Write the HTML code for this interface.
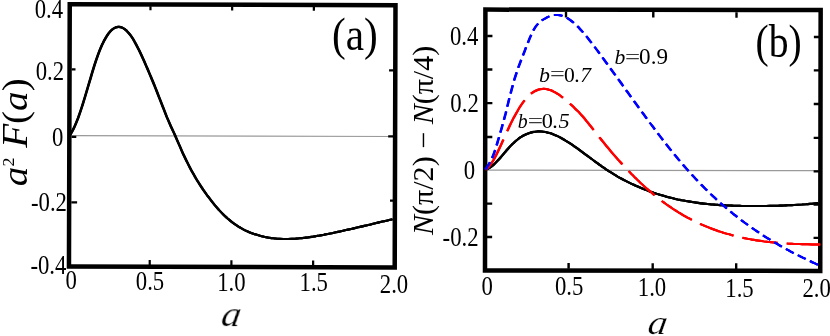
<!DOCTYPE html>
<html><head><meta charset="utf-8"><title>figure</title>
<style>
html,body{margin:0;padding:0;background:#fff;}
svg{display:block;font-family:"Liberation Serif",serif;}
</style></head>
<body>
<svg width="830" height="336" viewBox="0 0 830 336">
<rect width="830" height="336" fill="#fff"/>
<!-- panel a -->
<g transform="rotate(0.17 232 136)">
<line x1="72" y1="136" x2="393" y2="136" stroke="#9a9a9a" stroke-width="1.2"/>
<g stroke="#000" stroke-width="2.2">
<line x1="71.5" y1="69.8" x2="75.3" y2="69.8"/>
<line x1="71.5" y1="137.3" x2="76.3" y2="137.3"/>
<line x1="71.5" y1="202.8" x2="77.3" y2="202.8"/>
<line x1="388.9" y1="69.9" x2="393.5" y2="69.9"/>
<line x1="388.2" y1="135.9" x2="393.5" y2="135.9"/>
<line x1="390.2" y1="200.2" x2="393.5" y2="200.2"/>
<line x1="150.1" y1="260.3" x2="150.1" y2="265.5"/>
<line x1="150.1" y1="6.5" x2="150.1" y2="10.5"/>
<line x1="231.8" y1="260.3" x2="231.8" y2="265.5"/>
<line x1="231.8" y1="6.5" x2="231.8" y2="10.5"/>
<line x1="313.5" y1="260.3" x2="313.5" y2="265.5"/>
<line x1="313.5" y1="6.5" x2="313.5" y2="10.5"/>
</g>
<path transform="translate(-0.27,0)" d="M70.0,135.7C70.7,134.4 72.7,131.1 74.0,128.2C75.4,125.3 76.7,121.9 78.1,118.3C79.4,114.7 80.8,110.7 82.1,106.5C83.4,102.3 84.8,97.8 86.1,93.2C87.5,88.7 88.8,83.8 90.2,79.3C91.5,74.7 92.9,70.0 94.2,65.8C95.5,61.6 96.9,57.6 98.2,54.0C99.6,50.4 100.9,47.1 102.3,44.2C103.6,41.3 105.0,38.8 106.3,36.7C107.6,34.5 109.0,32.7 110.3,31.3C111.7,29.9 113.0,28.9 114.4,28.2C115.7,27.5 117.1,27.2 118.4,27.2C119.7,27.2 121.1,27.5 122.4,28.2C123.8,28.9 125.1,29.9 126.5,31.2C127.8,32.5 129.2,34.1 130.5,36.0C131.9,37.8 133.2,40.0 134.5,42.4C135.9,44.7 137.2,47.3 138.6,50.0C139.9,52.7 141.3,55.6 142.6,58.5C144.0,61.4 145.3,64.5 146.6,67.5C148.0,70.6 149.3,73.8 150.7,77.0C152.0,80.2 153.4,83.4 154.7,86.7C156.1,90.0 157.4,93.4 158.7,96.8C160.1,100.3 161.4,103.8 162.8,107.2C164.1,110.6 165.5,114.1 166.8,117.3C168.2,120.4 169.5,123.4 170.8,126.4C172.2,129.3 173.5,132.2 174.9,135.2C176.2,138.2 177.6,141.3 178.9,144.3C180.3,147.3 181.6,150.5 182.9,153.4C184.3,156.3 185.6,159.1 187.0,161.8C188.3,164.5 189.7,167.1 191.0,169.6C192.4,172.0 193.7,174.4 195.0,176.7C196.4,179.0 197.7,181.2 199.1,183.3C200.4,185.4 201.8,187.4 203.1,189.4C204.5,191.3 205.8,193.2 207.1,195.1C208.5,196.9 209.8,198.7 211.2,200.4C212.5,202.1 213.9,203.8 215.2,205.4C216.6,207.0 217.9,208.5 219.2,210.0C220.6,211.5 221.9,212.9 223.3,214.2C224.6,215.6 226.0,216.8 227.3,218.0C228.7,219.2 230.0,220.4 231.3,221.4C232.7,222.5 234.0,223.5 235.4,224.4C236.7,225.3 238.1,226.2 239.4,227.0C240.8,227.8 242.1,228.6 243.5,229.3C244.8,230.0 246.1,230.6 247.5,231.2C248.8,231.8 250.2,232.4 251.5,232.9C252.9,233.4 254.2,233.9 255.6,234.3C256.9,234.7 258.2,235.1 259.6,235.5C260.9,235.9 262.3,236.2 263.6,236.5C265.0,236.8 266.3,237.1 267.7,237.3C269.0,237.6 270.3,237.8 271.7,238.0C273.0,238.1 274.4,238.3 275.7,238.4C277.1,238.5 278.4,238.6 279.8,238.7C281.1,238.8 282.4,238.8 283.8,238.8C285.1,238.9 286.5,238.9 287.8,238.8C289.2,238.8 290.5,238.8 291.9,238.7C293.2,238.7 294.5,238.6 295.9,238.5C297.2,238.4 298.6,238.3 299.9,238.1C301.3,238.0 302.6,237.8 304.0,237.7C305.3,237.5 306.6,237.4 308.0,237.2C309.3,237.0 310.7,236.8 312.0,236.6C313.4,236.4 314.7,236.1 316.1,235.9C317.4,235.7 318.7,235.4 320.1,235.2C321.4,235.0 322.8,234.7 324.1,234.5C325.5,234.2 326.8,233.9 328.2,233.7C329.5,233.4 330.8,233.1 332.2,232.9C333.5,232.6 334.9,232.3 336.2,232.0C337.6,231.7 338.9,231.4 340.3,231.1C341.6,230.8 343.0,230.5 344.3,230.2C345.6,229.9 347.0,229.6 348.3,229.3C349.7,229.0 351.0,228.7 352.4,228.4C353.7,228.1 355.1,227.8 356.4,227.4C357.7,227.1 359.1,226.8 360.4,226.5C361.8,226.2 363.1,225.8 364.5,225.5C365.8,225.2 367.2,224.9 368.5,224.6C369.8,224.2 371.2,223.9 372.5,223.6C373.9,223.3 375.2,222.9 376.6,222.6C377.9,222.3 379.3,222.0 380.6,221.6C381.9,221.3 383.3,221.0 384.6,220.7C386.0,220.4 387.3,220.0 388.7,219.7C390.0,219.4 392.0,219.0 392.7,218.8" fill="none" stroke="#000" stroke-width="2.1" stroke-linejoin="round"/>
<path transform="translate(0,0)" d="M70.0,135.7C70.7,134.4 72.7,131.1 74.0,128.2C75.4,125.3 76.7,121.9 78.1,118.3C79.4,114.7 80.8,110.7 82.1,106.5C83.4,102.3 84.8,97.8 86.1,93.2C87.5,88.7 88.8,83.8 90.2,79.3C91.5,74.7 92.9,70.0 94.2,65.8C95.5,61.6 96.9,57.6 98.2,54.0C99.6,50.4 100.9,47.1 102.3,44.2C103.6,41.3 105.0,38.8 106.3,36.7C107.6,34.5 109.0,32.7 110.3,31.3C111.7,29.9 113.0,28.9 114.4,28.2C115.7,27.5 117.1,27.2 118.4,27.2C119.7,27.2 121.1,27.5 122.4,28.2C123.8,28.9 125.1,29.9 126.5,31.2C127.8,32.5 129.2,34.1 130.5,36.0C131.9,37.8 133.2,40.0 134.5,42.4C135.9,44.7 137.2,47.3 138.6,50.0C139.9,52.7 141.3,55.6 142.6,58.5C144.0,61.4 145.3,64.5 146.6,67.5C148.0,70.6 149.3,73.8 150.7,77.0C152.0,80.2 153.4,83.4 154.7,86.7C156.1,90.0 157.4,93.4 158.7,96.8C160.1,100.3 161.4,103.8 162.8,107.2C164.1,110.6 165.5,114.1 166.8,117.3C168.2,120.4 169.5,123.4 170.8,126.4C172.2,129.3 173.5,132.2 174.9,135.2C176.2,138.2 177.6,141.3 178.9,144.3C180.3,147.3 181.6,150.5 182.9,153.4C184.3,156.3 185.6,159.1 187.0,161.8C188.3,164.5 189.7,167.1 191.0,169.6C192.4,172.0 193.7,174.4 195.0,176.7C196.4,179.0 197.7,181.2 199.1,183.3C200.4,185.4 201.8,187.4 203.1,189.4C204.5,191.3 205.8,193.2 207.1,195.1C208.5,196.9 209.8,198.7 211.2,200.4C212.5,202.1 213.9,203.8 215.2,205.4C216.6,207.0 217.9,208.5 219.2,210.0C220.6,211.5 221.9,212.9 223.3,214.2C224.6,215.6 226.0,216.8 227.3,218.0C228.7,219.2 230.0,220.4 231.3,221.4C232.7,222.5 234.0,223.5 235.4,224.4C236.7,225.3 238.1,226.2 239.4,227.0C240.8,227.8 242.1,228.6 243.5,229.3C244.8,230.0 246.1,230.6 247.5,231.2C248.8,231.8 250.2,232.4 251.5,232.9C252.9,233.4 254.2,233.9 255.6,234.3C256.9,234.7 258.2,235.1 259.6,235.5C260.9,235.9 262.3,236.2 263.6,236.5C265.0,236.8 266.3,237.1 267.7,237.3C269.0,237.6 270.3,237.8 271.7,238.0C273.0,238.1 274.4,238.3 275.7,238.4C277.1,238.5 278.4,238.6 279.8,238.7C281.1,238.8 282.4,238.8 283.8,238.8C285.1,238.9 286.5,238.9 287.8,238.8C289.2,238.8 290.5,238.8 291.9,238.7C293.2,238.7 294.5,238.6 295.9,238.5C297.2,238.4 298.6,238.3 299.9,238.1C301.3,238.0 302.6,237.8 304.0,237.7C305.3,237.5 306.6,237.4 308.0,237.2C309.3,237.0 310.7,236.8 312.0,236.6C313.4,236.4 314.7,236.1 316.1,235.9C317.4,235.7 318.7,235.4 320.1,235.2C321.4,235.0 322.8,234.7 324.1,234.5C325.5,234.2 326.8,233.9 328.2,233.7C329.5,233.4 330.8,233.1 332.2,232.9C333.5,232.6 334.9,232.3 336.2,232.0C337.6,231.7 338.9,231.4 340.3,231.1C341.6,230.8 343.0,230.5 344.3,230.2C345.6,229.9 347.0,229.6 348.3,229.3C349.7,229.0 351.0,228.7 352.4,228.4C353.7,228.1 355.1,227.8 356.4,227.4C357.7,227.1 359.1,226.8 360.4,226.5C361.8,226.2 363.1,225.8 364.5,225.5C365.8,225.2 367.2,224.9 368.5,224.6C369.8,224.2 371.2,223.9 372.5,223.6C373.9,223.3 375.2,222.9 376.6,222.6C377.9,222.3 379.3,222.0 380.6,221.6C381.9,221.3 383.3,221.0 384.6,220.7C386.0,220.4 387.3,220.0 388.7,219.7C390.0,219.4 392.0,219.0 392.7,218.8" fill="none" stroke="#000" stroke-width="2.1" stroke-linejoin="round"/>
<path transform="translate(0.27,0)" d="M70.0,135.7C70.7,134.4 72.7,131.1 74.0,128.2C75.4,125.3 76.7,121.9 78.1,118.3C79.4,114.7 80.8,110.7 82.1,106.5C83.4,102.3 84.8,97.8 86.1,93.2C87.5,88.7 88.8,83.8 90.2,79.3C91.5,74.7 92.9,70.0 94.2,65.8C95.5,61.6 96.9,57.6 98.2,54.0C99.6,50.4 100.9,47.1 102.3,44.2C103.6,41.3 105.0,38.8 106.3,36.7C107.6,34.5 109.0,32.7 110.3,31.3C111.7,29.9 113.0,28.9 114.4,28.2C115.7,27.5 117.1,27.2 118.4,27.2C119.7,27.2 121.1,27.5 122.4,28.2C123.8,28.9 125.1,29.9 126.5,31.2C127.8,32.5 129.2,34.1 130.5,36.0C131.9,37.8 133.2,40.0 134.5,42.4C135.9,44.7 137.2,47.3 138.6,50.0C139.9,52.7 141.3,55.6 142.6,58.5C144.0,61.4 145.3,64.5 146.6,67.5C148.0,70.6 149.3,73.8 150.7,77.0C152.0,80.2 153.4,83.4 154.7,86.7C156.1,90.0 157.4,93.4 158.7,96.8C160.1,100.3 161.4,103.8 162.8,107.2C164.1,110.6 165.5,114.1 166.8,117.3C168.2,120.4 169.5,123.4 170.8,126.4C172.2,129.3 173.5,132.2 174.9,135.2C176.2,138.2 177.6,141.3 178.9,144.3C180.3,147.3 181.6,150.5 182.9,153.4C184.3,156.3 185.6,159.1 187.0,161.8C188.3,164.5 189.7,167.1 191.0,169.6C192.4,172.0 193.7,174.4 195.0,176.7C196.4,179.0 197.7,181.2 199.1,183.3C200.4,185.4 201.8,187.4 203.1,189.4C204.5,191.3 205.8,193.2 207.1,195.1C208.5,196.9 209.8,198.7 211.2,200.4C212.5,202.1 213.9,203.8 215.2,205.4C216.6,207.0 217.9,208.5 219.2,210.0C220.6,211.5 221.9,212.9 223.3,214.2C224.6,215.6 226.0,216.8 227.3,218.0C228.7,219.2 230.0,220.4 231.3,221.4C232.7,222.5 234.0,223.5 235.4,224.4C236.7,225.3 238.1,226.2 239.4,227.0C240.8,227.8 242.1,228.6 243.5,229.3C244.8,230.0 246.1,230.6 247.5,231.2C248.8,231.8 250.2,232.4 251.5,232.9C252.9,233.4 254.2,233.9 255.6,234.3C256.9,234.7 258.2,235.1 259.6,235.5C260.9,235.9 262.3,236.2 263.6,236.5C265.0,236.8 266.3,237.1 267.7,237.3C269.0,237.6 270.3,237.8 271.7,238.0C273.0,238.1 274.4,238.3 275.7,238.4C277.1,238.5 278.4,238.6 279.8,238.7C281.1,238.8 282.4,238.8 283.8,238.8C285.1,238.9 286.5,238.9 287.8,238.8C289.2,238.8 290.5,238.8 291.9,238.7C293.2,238.7 294.5,238.6 295.9,238.5C297.2,238.4 298.6,238.3 299.9,238.1C301.3,238.0 302.6,237.8 304.0,237.7C305.3,237.5 306.6,237.4 308.0,237.2C309.3,237.0 310.7,236.8 312.0,236.6C313.4,236.4 314.7,236.1 316.1,235.9C317.4,235.7 318.7,235.4 320.1,235.2C321.4,235.0 322.8,234.7 324.1,234.5C325.5,234.2 326.8,233.9 328.2,233.7C329.5,233.4 330.8,233.1 332.2,232.9C333.5,232.6 334.9,232.3 336.2,232.0C337.6,231.7 338.9,231.4 340.3,231.1C341.6,230.8 343.0,230.5 344.3,230.2C345.6,229.9 347.0,229.6 348.3,229.3C349.7,229.0 351.0,228.7 352.4,228.4C353.7,228.1 355.1,227.8 356.4,227.4C357.7,227.1 359.1,226.8 360.4,226.5C361.8,226.2 363.1,225.8 364.5,225.5C365.8,225.2 367.2,224.9 368.5,224.6C369.8,224.2 371.2,223.9 372.5,223.6C373.9,223.3 375.2,222.9 376.6,222.6C377.9,222.3 379.3,222.0 380.6,221.6C381.9,221.3 383.3,221.0 384.6,220.7C386.0,220.4 387.3,220.0 388.7,219.7C390.0,219.4 392.0,219.0 392.7,218.8" fill="none" stroke="#000" stroke-width="2.1" stroke-linejoin="round"/>
<rect x="69.35" y="4.65" width="325.75" height="262.4" fill="none" stroke="#000" stroke-width="4.5"/>
</g>
<!-- panel b -->
<g transform="rotate(0.09 653 140)">
<line x1="487" y1="170.4" x2="818" y2="170.4" stroke="#9a9a9a" stroke-width="1.2"/>
<g stroke="#000" stroke-width="2.4">
<line x1="487" y1="36.3" x2="492.3" y2="36.3"/>
<line x1="813.7" y1="36.699999999999996" x2="819" y2="36.699999999999996"/>
<line x1="487" y1="69.7" x2="492.3" y2="69.7"/>
<line x1="813.7" y1="70.10000000000001" x2="819" y2="70.10000000000001"/>
<line x1="487" y1="103.4" x2="492.3" y2="103.4"/>
<line x1="813.7" y1="103.80000000000001" x2="819" y2="103.80000000000001"/>
<line x1="487" y1="137.2" x2="492.3" y2="137.2"/>
<line x1="813.7" y1="137.6" x2="819" y2="137.6"/>
<line x1="813.7" y1="171.1" x2="819" y2="171.1"/>
<line x1="487" y1="203.9" x2="492.3" y2="203.9"/>
<line x1="813.7" y1="204.3" x2="819" y2="204.3"/>
<line x1="487" y1="237.2" x2="492.3" y2="237.2"/>
<line x1="813.7" y1="237.6" x2="819" y2="237.6"/>
<line x1="568.8" y1="263.2" x2="568.8" y2="269"/>
<line x1="565.8" y1="12" x2="565.8" y2="17.6"/>
<line x1="652.9" y1="263.2" x2="652.9" y2="269"/>
<line x1="653.1" y1="12" x2="653.1" y2="17.6"/>
<line x1="736.4" y1="263.2" x2="736.4" y2="269"/>
<line x1="736.3" y1="12" x2="736.3" y2="17.6"/>
</g>
<rect x="485.2" y="9.85" width="335.25" height="260.85" fill="none" stroke="#000" stroke-width="4.5"/>
<path transform="translate(-0.27,0)" d="M485.5,170.0C486.2,169.7 488.2,169.0 489.5,168.1C490.8,167.3 492.2,166.2 493.5,165.1C494.9,163.9 496.2,162.5 497.5,161.1C498.9,159.7 500.2,158.1 501.5,156.6C502.9,155.1 504.2,153.5 505.5,151.9C506.9,150.4 508.2,148.8 509.5,147.3C510.9,145.9 512.2,144.4 513.6,143.2C514.9,141.9 516.2,140.7 517.6,139.7C518.9,138.6 520.2,137.7 521.6,136.9C522.9,136.0 524.2,135.3 525.6,134.7C526.9,134.0 528.2,133.5 529.6,133.1C530.9,132.6 532.3,132.3 533.6,132.1C534.9,131.8 536.3,131.7 537.6,131.6C538.9,131.5 540.3,131.6 541.6,131.7C542.9,131.8 544.3,132.0 545.6,132.2C546.9,132.5 548.3,132.8 549.6,133.2C551.0,133.6 552.3,134.1 553.6,134.6C555.0,135.1 556.3,135.7 557.6,136.3C559.0,136.9 560.3,137.6 561.6,138.4C563.0,139.1 564.3,139.9 565.6,140.7C567.0,141.5 568.3,142.3 569.7,143.2C571.0,144.1 572.3,145.0 573.7,145.9C575.0,146.8 576.3,147.8 577.7,148.7C579.0,149.7 580.3,150.7 581.7,151.7C583.0,152.7 584.3,153.7 585.7,154.7C587.0,155.6 588.4,156.6 589.7,157.6C591.0,158.6 592.4,159.6 593.7,160.6C595.0,161.6 596.4,162.6 597.7,163.5C599.0,164.5 600.4,165.4 601.7,166.4C603.0,167.3 604.4,168.2 605.7,169.1C607.1,170.0 608.4,170.9 609.7,171.7C611.1,172.6 612.4,173.4 613.7,174.2C615.1,175.0 616.4,175.8 617.7,176.6C619.1,177.4 620.4,178.1 621.7,178.8C623.1,179.6 624.4,180.3 625.8,180.9C627.1,181.6 628.4,182.3 629.8,182.9C631.1,183.6 632.4,184.2 633.8,184.8C635.1,185.5 636.4,186.1 637.8,186.6C639.1,187.2 640.4,187.8 641.8,188.3C643.1,188.9 644.5,189.4 645.8,189.9C647.1,190.4 648.5,190.9 649.8,191.4C651.1,191.9 652.5,192.3 653.8,192.8C655.1,193.2 656.5,193.7 657.8,194.1C659.1,194.5 660.5,194.9 661.8,195.3C663.2,195.7 664.5,196.1 665.8,196.4C667.2,196.8 668.5,197.2 669.8,197.5C671.2,197.8 672.5,198.2 673.8,198.5C675.2,198.8 676.5,199.1 677.8,199.4C679.2,199.6 680.5,199.9 681.9,200.2C683.2,200.4 684.5,200.7 685.9,200.9C687.2,201.2 688.5,201.4 689.9,201.6C691.2,201.8 692.5,202.0 693.9,202.2C695.2,202.4 696.5,202.6 697.9,202.8C699.2,203.0 700.6,203.1 701.9,203.3C703.2,203.5 704.6,203.6 705.9,203.7C707.2,203.9 708.6,204.0 709.9,204.1C711.2,204.3 712.6,204.4 713.9,204.5C715.2,204.6 716.6,204.7 717.9,204.8C719.3,204.9 720.6,205.0 721.9,205.0C723.3,205.1 724.6,205.2 725.9,205.3C727.3,205.3 728.6,205.4 729.9,205.4C731.3,205.5 732.6,205.5 733.9,205.6C735.3,205.6 736.6,205.7 738.0,205.7C739.3,205.7 740.6,205.8 742.0,205.8C743.3,205.8 744.6,205.8 746.0,205.9C747.3,205.9 748.6,205.9 750.0,205.9C751.3,205.9 752.6,205.9 754.0,205.9C755.3,205.9 756.7,205.9 758.0,205.9C759.3,205.9 760.7,205.9 762.0,205.9C763.3,205.9 764.7,205.8 766.0,205.8C767.3,205.8 768.7,205.8 770.0,205.7C771.3,205.7 772.7,205.7 774.0,205.6C775.4,205.6 776.7,205.6 778.0,205.5C779.4,205.5 780.7,205.4 782.0,205.4C783.4,205.3 784.7,205.3 786.0,205.2C787.4,205.1 788.7,205.1 790.0,205.0C791.4,204.9 792.7,204.9 794.1,204.8C795.4,204.7 796.7,204.6 798.1,204.5C799.4,204.4 800.7,204.3 802.1,204.3C803.4,204.2 804.7,204.1 806.1,204.0C807.4,203.8 808.7,203.7 810.1,203.6C811.4,203.5 812.8,203.4 814.1,203.3C815.4,203.2 817.4,203.0 818.1,202.9" fill="none" stroke="#000" stroke-width="2.1" stroke-linejoin="round"/>
<path transform="translate(0,0)" d="M485.5,170.0C486.2,169.7 488.2,169.0 489.5,168.1C490.8,167.3 492.2,166.2 493.5,165.1C494.9,163.9 496.2,162.5 497.5,161.1C498.9,159.7 500.2,158.1 501.5,156.6C502.9,155.1 504.2,153.5 505.5,151.9C506.9,150.4 508.2,148.8 509.5,147.3C510.9,145.9 512.2,144.4 513.6,143.2C514.9,141.9 516.2,140.7 517.6,139.7C518.9,138.6 520.2,137.7 521.6,136.9C522.9,136.0 524.2,135.3 525.6,134.7C526.9,134.0 528.2,133.5 529.6,133.1C530.9,132.6 532.3,132.3 533.6,132.1C534.9,131.8 536.3,131.7 537.6,131.6C538.9,131.5 540.3,131.6 541.6,131.7C542.9,131.8 544.3,132.0 545.6,132.2C546.9,132.5 548.3,132.8 549.6,133.2C551.0,133.6 552.3,134.1 553.6,134.6C555.0,135.1 556.3,135.7 557.6,136.3C559.0,136.9 560.3,137.6 561.6,138.4C563.0,139.1 564.3,139.9 565.6,140.7C567.0,141.5 568.3,142.3 569.7,143.2C571.0,144.1 572.3,145.0 573.7,145.9C575.0,146.8 576.3,147.8 577.7,148.7C579.0,149.7 580.3,150.7 581.7,151.7C583.0,152.7 584.3,153.7 585.7,154.7C587.0,155.6 588.4,156.6 589.7,157.6C591.0,158.6 592.4,159.6 593.7,160.6C595.0,161.6 596.4,162.6 597.7,163.5C599.0,164.5 600.4,165.4 601.7,166.4C603.0,167.3 604.4,168.2 605.7,169.1C607.1,170.0 608.4,170.9 609.7,171.7C611.1,172.6 612.4,173.4 613.7,174.2C615.1,175.0 616.4,175.8 617.7,176.6C619.1,177.4 620.4,178.1 621.7,178.8C623.1,179.6 624.4,180.3 625.8,180.9C627.1,181.6 628.4,182.3 629.8,182.9C631.1,183.6 632.4,184.2 633.8,184.8C635.1,185.5 636.4,186.1 637.8,186.6C639.1,187.2 640.4,187.8 641.8,188.3C643.1,188.9 644.5,189.4 645.8,189.9C647.1,190.4 648.5,190.9 649.8,191.4C651.1,191.9 652.5,192.3 653.8,192.8C655.1,193.2 656.5,193.7 657.8,194.1C659.1,194.5 660.5,194.9 661.8,195.3C663.2,195.7 664.5,196.1 665.8,196.4C667.2,196.8 668.5,197.2 669.8,197.5C671.2,197.8 672.5,198.2 673.8,198.5C675.2,198.8 676.5,199.1 677.8,199.4C679.2,199.6 680.5,199.9 681.9,200.2C683.2,200.4 684.5,200.7 685.9,200.9C687.2,201.2 688.5,201.4 689.9,201.6C691.2,201.8 692.5,202.0 693.9,202.2C695.2,202.4 696.5,202.6 697.9,202.8C699.2,203.0 700.6,203.1 701.9,203.3C703.2,203.5 704.6,203.6 705.9,203.7C707.2,203.9 708.6,204.0 709.9,204.1C711.2,204.3 712.6,204.4 713.9,204.5C715.2,204.6 716.6,204.7 717.9,204.8C719.3,204.9 720.6,205.0 721.9,205.0C723.3,205.1 724.6,205.2 725.9,205.3C727.3,205.3 728.6,205.4 729.9,205.4C731.3,205.5 732.6,205.5 733.9,205.6C735.3,205.6 736.6,205.7 738.0,205.7C739.3,205.7 740.6,205.8 742.0,205.8C743.3,205.8 744.6,205.8 746.0,205.9C747.3,205.9 748.6,205.9 750.0,205.9C751.3,205.9 752.6,205.9 754.0,205.9C755.3,205.9 756.7,205.9 758.0,205.9C759.3,205.9 760.7,205.9 762.0,205.9C763.3,205.9 764.7,205.8 766.0,205.8C767.3,205.8 768.7,205.8 770.0,205.7C771.3,205.7 772.7,205.7 774.0,205.6C775.4,205.6 776.7,205.6 778.0,205.5C779.4,205.5 780.7,205.4 782.0,205.4C783.4,205.3 784.7,205.3 786.0,205.2C787.4,205.1 788.7,205.1 790.0,205.0C791.4,204.9 792.7,204.9 794.1,204.8C795.4,204.7 796.7,204.6 798.1,204.5C799.4,204.4 800.7,204.3 802.1,204.3C803.4,204.2 804.7,204.1 806.1,204.0C807.4,203.8 808.7,203.7 810.1,203.6C811.4,203.5 812.8,203.4 814.1,203.3C815.4,203.2 817.4,203.0 818.1,202.9" fill="none" stroke="#000" stroke-width="2.1" stroke-linejoin="round"/>
<path transform="translate(0.27,0)" d="M485.5,170.0C486.2,169.7 488.2,169.0 489.5,168.1C490.8,167.3 492.2,166.2 493.5,165.1C494.9,163.9 496.2,162.5 497.5,161.1C498.9,159.7 500.2,158.1 501.5,156.6C502.9,155.1 504.2,153.5 505.5,151.9C506.9,150.4 508.2,148.8 509.5,147.3C510.9,145.9 512.2,144.4 513.6,143.2C514.9,141.9 516.2,140.7 517.6,139.7C518.9,138.6 520.2,137.7 521.6,136.9C522.9,136.0 524.2,135.3 525.6,134.7C526.9,134.0 528.2,133.5 529.6,133.1C530.9,132.6 532.3,132.3 533.6,132.1C534.9,131.8 536.3,131.7 537.6,131.6C538.9,131.5 540.3,131.6 541.6,131.7C542.9,131.8 544.3,132.0 545.6,132.2C546.9,132.5 548.3,132.8 549.6,133.2C551.0,133.6 552.3,134.1 553.6,134.6C555.0,135.1 556.3,135.7 557.6,136.3C559.0,136.9 560.3,137.6 561.6,138.4C563.0,139.1 564.3,139.9 565.6,140.7C567.0,141.5 568.3,142.3 569.7,143.2C571.0,144.1 572.3,145.0 573.7,145.9C575.0,146.8 576.3,147.8 577.7,148.7C579.0,149.7 580.3,150.7 581.7,151.7C583.0,152.7 584.3,153.7 585.7,154.7C587.0,155.6 588.4,156.6 589.7,157.6C591.0,158.6 592.4,159.6 593.7,160.6C595.0,161.6 596.4,162.6 597.7,163.5C599.0,164.5 600.4,165.4 601.7,166.4C603.0,167.3 604.4,168.2 605.7,169.1C607.1,170.0 608.4,170.9 609.7,171.7C611.1,172.6 612.4,173.4 613.7,174.2C615.1,175.0 616.4,175.8 617.7,176.6C619.1,177.4 620.4,178.1 621.7,178.8C623.1,179.6 624.4,180.3 625.8,180.9C627.1,181.6 628.4,182.3 629.8,182.9C631.1,183.6 632.4,184.2 633.8,184.8C635.1,185.5 636.4,186.1 637.8,186.6C639.1,187.2 640.4,187.8 641.8,188.3C643.1,188.9 644.5,189.4 645.8,189.9C647.1,190.4 648.5,190.9 649.8,191.4C651.1,191.9 652.5,192.3 653.8,192.8C655.1,193.2 656.5,193.7 657.8,194.1C659.1,194.5 660.5,194.9 661.8,195.3C663.2,195.7 664.5,196.1 665.8,196.4C667.2,196.8 668.5,197.2 669.8,197.5C671.2,197.8 672.5,198.2 673.8,198.5C675.2,198.8 676.5,199.1 677.8,199.4C679.2,199.6 680.5,199.9 681.9,200.2C683.2,200.4 684.5,200.7 685.9,200.9C687.2,201.2 688.5,201.4 689.9,201.6C691.2,201.8 692.5,202.0 693.9,202.2C695.2,202.4 696.5,202.6 697.9,202.8C699.2,203.0 700.6,203.1 701.9,203.3C703.2,203.5 704.6,203.6 705.9,203.7C707.2,203.9 708.6,204.0 709.9,204.1C711.2,204.3 712.6,204.4 713.9,204.5C715.2,204.6 716.6,204.7 717.9,204.8C719.3,204.9 720.6,205.0 721.9,205.0C723.3,205.1 724.6,205.2 725.9,205.3C727.3,205.3 728.6,205.4 729.9,205.4C731.3,205.5 732.6,205.5 733.9,205.6C735.3,205.6 736.6,205.7 738.0,205.7C739.3,205.7 740.6,205.8 742.0,205.8C743.3,205.8 744.6,205.8 746.0,205.9C747.3,205.9 748.6,205.9 750.0,205.9C751.3,205.9 752.6,205.9 754.0,205.9C755.3,205.9 756.7,205.9 758.0,205.9C759.3,205.9 760.7,205.9 762.0,205.9C763.3,205.9 764.7,205.8 766.0,205.8C767.3,205.8 768.7,205.8 770.0,205.7C771.3,205.7 772.7,205.7 774.0,205.6C775.4,205.6 776.7,205.6 778.0,205.5C779.4,205.5 780.7,205.4 782.0,205.4C783.4,205.3 784.7,205.3 786.0,205.2C787.4,205.1 788.7,205.1 790.0,205.0C791.4,204.9 792.7,204.9 794.1,204.8C795.4,204.7 796.7,204.6 798.1,204.5C799.4,204.4 800.7,204.3 802.1,204.3C803.4,204.2 804.7,204.1 806.1,204.0C807.4,203.8 808.7,203.7 810.1,203.6C811.4,203.5 812.8,203.4 814.1,203.3C815.4,203.2 817.4,203.0 818.1,202.9" fill="none" stroke="#000" stroke-width="2.1" stroke-linejoin="round"/>
<path transform="translate(-0.3,0)" d="M485.5,170.0C486.2,169.4 488.2,167.9 489.5,166.2C490.9,164.6 492.2,162.5 493.6,160.2C494.9,157.9 496.3,155.2 497.6,152.5C498.9,149.7 500.3,146.7 501.6,143.8C503.0,140.8 504.3,137.7 505.7,134.8C507.0,131.8 508.4,128.8 509.7,126.0C511.0,123.2 512.4,120.5 513.7,117.9C515.1,115.3 516.4,112.9 517.8,110.6C519.1,108.3 520.5,106.1 521.8,104.2C523.1,102.2 524.5,100.4 525.8,98.9C527.2,97.3 528.5,95.9 529.9,94.7C531.2,93.6 532.6,92.6 533.9,91.8C535.2,91.0 536.6,90.4 537.9,89.9C539.3,89.4 540.6,89.2 542.0,89.1C543.3,88.9 544.7,89.0 546.0,89.2C547.4,89.4 548.7,89.7 550.0,90.2C551.4,90.6 552.7,91.3 554.1,92.0C555.4,92.6 556.8,93.5 558.1,94.3C559.5,95.2 560.8,96.2 562.1,97.3C563.5,98.3 564.8,99.4 566.2,100.5C567.5,101.7 568.9,102.9 570.2,104.1C571.6,105.3 572.9,106.5 574.2,107.8C575.6,109.1 576.9,110.4 578.3,111.8C579.6,113.2 581.0,114.6 582.3,116.1C583.7,117.6 585.0,119.2 586.3,120.9C587.7,122.5 589.0,124.2 590.4,126.0C591.7,127.7 593.1,129.4 594.4,131.1C595.8,132.8 597.1,134.6 598.4,136.2C599.8,137.9 601.1,139.6 602.5,141.2C603.8,142.9 605.2,144.5 606.5,146.1C607.9,147.8 609.2,149.4 610.5,150.9C611.9,152.5 613.2,154.1 614.6,155.6C615.9,157.2 617.3,158.7 618.6,160.2C620.0,161.7 621.3,163.2 622.6,164.6C624.0,166.1 625.3,167.5 626.7,168.9C628.0,170.4 629.4,171.8 630.7,173.1C632.1,174.5 633.4,175.9 634.7,177.2C636.1,178.5 637.4,179.8 638.8,181.1C640.1,182.4 641.5,183.7 642.8,184.9C644.2,186.2 645.5,187.4 646.8,188.6C648.2,189.8 649.5,190.9 650.9,192.1C652.2,193.2 653.6,194.4 654.9,195.5C656.3,196.6 657.6,197.6 659.0,198.7C660.3,199.7 661.6,200.7 663.0,201.7C664.3,202.7 665.7,203.7 667.0,204.7C668.4,205.6 669.7,206.5 671.1,207.4C672.4,208.4 673.7,209.2 675.1,210.1C676.4,211.0 677.8,211.8 679.1,212.6C680.5,213.4 681.8,214.2 683.2,215.0C684.5,215.8 685.8,216.5 687.2,217.3C688.5,218.0 689.9,218.7 691.2,219.4C692.6,220.1 693.9,220.8 695.3,221.4C696.6,222.1 697.9,222.7 699.3,223.3C700.6,223.9 702.0,224.5 703.3,225.1C704.7,225.7 706.0,226.3 707.4,226.8C708.7,227.4 710.0,227.9 711.4,228.4C712.7,228.9 714.1,229.4 715.4,229.9C716.8,230.4 718.1,230.8 719.5,231.3C720.8,231.7 722.1,232.1 723.5,232.6C724.8,233.0 726.2,233.4 727.5,233.8C728.9,234.1 730.2,234.5 731.6,234.9C732.9,235.2 734.2,235.6 735.6,235.9C736.9,236.3 738.3,236.6 739.6,236.9C741.0,237.2 742.3,237.5 743.7,237.8C745.0,238.0 746.3,238.3 747.7,238.6C749.0,238.8 750.4,239.1 751.7,239.3C753.1,239.5 754.4,239.8 755.8,240.0C757.1,240.2 758.4,240.4 759.8,240.6C761.1,240.8 762.5,241.0 763.8,241.2C765.2,241.3 766.5,241.5 767.9,241.7C769.2,241.8 770.6,242.0 771.9,242.1C773.2,242.2 774.6,242.4 775.9,242.5C777.3,242.6 778.6,242.7 780.0,242.8C781.3,242.9 782.7,243.0 784.0,243.1C785.3,243.2 786.7,243.3 788.0,243.4C789.4,243.5 790.7,243.5 792.1,243.6C793.4,243.7 794.8,243.7 796.1,243.8C797.4,243.8 798.8,243.9 800.1,243.9C801.5,243.9 802.8,244.0 804.2,244.0C805.5,244.0 806.9,244.1 808.2,244.1C809.5,244.1 810.9,244.1 812.2,244.2C813.6,244.2 814.9,244.2 816.3,244.2C817.6,244.2 819.6,244.2 820.3,244.2" fill="none" stroke="#f00" stroke-width="1.95" stroke-linejoin="round" stroke-dasharray="35.3 9.4"/>
<path transform="translate(0,0)" d="M485.5,170.0C486.2,169.4 488.2,167.9 489.5,166.2C490.9,164.6 492.2,162.5 493.6,160.2C494.9,157.9 496.3,155.2 497.6,152.5C498.9,149.7 500.3,146.7 501.6,143.8C503.0,140.8 504.3,137.7 505.7,134.8C507.0,131.8 508.4,128.8 509.7,126.0C511.0,123.2 512.4,120.5 513.7,117.9C515.1,115.3 516.4,112.9 517.8,110.6C519.1,108.3 520.5,106.1 521.8,104.2C523.1,102.2 524.5,100.4 525.8,98.9C527.2,97.3 528.5,95.9 529.9,94.7C531.2,93.6 532.6,92.6 533.9,91.8C535.2,91.0 536.6,90.4 537.9,89.9C539.3,89.4 540.6,89.2 542.0,89.1C543.3,88.9 544.7,89.0 546.0,89.2C547.4,89.4 548.7,89.7 550.0,90.2C551.4,90.6 552.7,91.3 554.1,92.0C555.4,92.6 556.8,93.5 558.1,94.3C559.5,95.2 560.8,96.2 562.1,97.3C563.5,98.3 564.8,99.4 566.2,100.5C567.5,101.7 568.9,102.9 570.2,104.1C571.6,105.3 572.9,106.5 574.2,107.8C575.6,109.1 576.9,110.4 578.3,111.8C579.6,113.2 581.0,114.6 582.3,116.1C583.7,117.6 585.0,119.2 586.3,120.9C587.7,122.5 589.0,124.2 590.4,126.0C591.7,127.7 593.1,129.4 594.4,131.1C595.8,132.8 597.1,134.6 598.4,136.2C599.8,137.9 601.1,139.6 602.5,141.2C603.8,142.9 605.2,144.5 606.5,146.1C607.9,147.8 609.2,149.4 610.5,150.9C611.9,152.5 613.2,154.1 614.6,155.6C615.9,157.2 617.3,158.7 618.6,160.2C620.0,161.7 621.3,163.2 622.6,164.6C624.0,166.1 625.3,167.5 626.7,168.9C628.0,170.4 629.4,171.8 630.7,173.1C632.1,174.5 633.4,175.9 634.7,177.2C636.1,178.5 637.4,179.8 638.8,181.1C640.1,182.4 641.5,183.7 642.8,184.9C644.2,186.2 645.5,187.4 646.8,188.6C648.2,189.8 649.5,190.9 650.9,192.1C652.2,193.2 653.6,194.4 654.9,195.5C656.3,196.6 657.6,197.6 659.0,198.7C660.3,199.7 661.6,200.7 663.0,201.7C664.3,202.7 665.7,203.7 667.0,204.7C668.4,205.6 669.7,206.5 671.1,207.4C672.4,208.4 673.7,209.2 675.1,210.1C676.4,211.0 677.8,211.8 679.1,212.6C680.5,213.4 681.8,214.2 683.2,215.0C684.5,215.8 685.8,216.5 687.2,217.3C688.5,218.0 689.9,218.7 691.2,219.4C692.6,220.1 693.9,220.8 695.3,221.4C696.6,222.1 697.9,222.7 699.3,223.3C700.6,223.9 702.0,224.5 703.3,225.1C704.7,225.7 706.0,226.3 707.4,226.8C708.7,227.4 710.0,227.9 711.4,228.4C712.7,228.9 714.1,229.4 715.4,229.9C716.8,230.4 718.1,230.8 719.5,231.3C720.8,231.7 722.1,232.1 723.5,232.6C724.8,233.0 726.2,233.4 727.5,233.8C728.9,234.1 730.2,234.5 731.6,234.9C732.9,235.2 734.2,235.6 735.6,235.9C736.9,236.3 738.3,236.6 739.6,236.9C741.0,237.2 742.3,237.5 743.7,237.8C745.0,238.0 746.3,238.3 747.7,238.6C749.0,238.8 750.4,239.1 751.7,239.3C753.1,239.5 754.4,239.8 755.8,240.0C757.1,240.2 758.4,240.4 759.8,240.6C761.1,240.8 762.5,241.0 763.8,241.2C765.2,241.3 766.5,241.5 767.9,241.7C769.2,241.8 770.6,242.0 771.9,242.1C773.2,242.2 774.6,242.4 775.9,242.5C777.3,242.6 778.6,242.7 780.0,242.8C781.3,242.9 782.7,243.0 784.0,243.1C785.3,243.2 786.7,243.3 788.0,243.4C789.4,243.5 790.7,243.5 792.1,243.6C793.4,243.7 794.8,243.7 796.1,243.8C797.4,243.8 798.8,243.9 800.1,243.9C801.5,243.9 802.8,244.0 804.2,244.0C805.5,244.0 806.9,244.1 808.2,244.1C809.5,244.1 810.9,244.1 812.2,244.2C813.6,244.2 814.9,244.2 816.3,244.2C817.6,244.2 819.6,244.2 820.3,244.2" fill="none" stroke="#f00" stroke-width="1.95" stroke-linejoin="round" stroke-dasharray="35.3 9.4"/>
<path transform="translate(0.3,0)" d="M485.5,170.0C486.2,169.4 488.2,167.9 489.5,166.2C490.9,164.6 492.2,162.5 493.6,160.2C494.9,157.9 496.3,155.2 497.6,152.5C498.9,149.7 500.3,146.7 501.6,143.8C503.0,140.8 504.3,137.7 505.7,134.8C507.0,131.8 508.4,128.8 509.7,126.0C511.0,123.2 512.4,120.5 513.7,117.9C515.1,115.3 516.4,112.9 517.8,110.6C519.1,108.3 520.5,106.1 521.8,104.2C523.1,102.2 524.5,100.4 525.8,98.9C527.2,97.3 528.5,95.9 529.9,94.7C531.2,93.6 532.6,92.6 533.9,91.8C535.2,91.0 536.6,90.4 537.9,89.9C539.3,89.4 540.6,89.2 542.0,89.1C543.3,88.9 544.7,89.0 546.0,89.2C547.4,89.4 548.7,89.7 550.0,90.2C551.4,90.6 552.7,91.3 554.1,92.0C555.4,92.6 556.8,93.5 558.1,94.3C559.5,95.2 560.8,96.2 562.1,97.3C563.5,98.3 564.8,99.4 566.2,100.5C567.5,101.7 568.9,102.9 570.2,104.1C571.6,105.3 572.9,106.5 574.2,107.8C575.6,109.1 576.9,110.4 578.3,111.8C579.6,113.2 581.0,114.6 582.3,116.1C583.7,117.6 585.0,119.2 586.3,120.9C587.7,122.5 589.0,124.2 590.4,126.0C591.7,127.7 593.1,129.4 594.4,131.1C595.8,132.8 597.1,134.6 598.4,136.2C599.8,137.9 601.1,139.6 602.5,141.2C603.8,142.9 605.2,144.5 606.5,146.1C607.9,147.8 609.2,149.4 610.5,150.9C611.9,152.5 613.2,154.1 614.6,155.6C615.9,157.2 617.3,158.7 618.6,160.2C620.0,161.7 621.3,163.2 622.6,164.6C624.0,166.1 625.3,167.5 626.7,168.9C628.0,170.4 629.4,171.8 630.7,173.1C632.1,174.5 633.4,175.9 634.7,177.2C636.1,178.5 637.4,179.8 638.8,181.1C640.1,182.4 641.5,183.7 642.8,184.9C644.2,186.2 645.5,187.4 646.8,188.6C648.2,189.8 649.5,190.9 650.9,192.1C652.2,193.2 653.6,194.4 654.9,195.5C656.3,196.6 657.6,197.6 659.0,198.7C660.3,199.7 661.6,200.7 663.0,201.7C664.3,202.7 665.7,203.7 667.0,204.7C668.4,205.6 669.7,206.5 671.1,207.4C672.4,208.4 673.7,209.2 675.1,210.1C676.4,211.0 677.8,211.8 679.1,212.6C680.5,213.4 681.8,214.2 683.2,215.0C684.5,215.8 685.8,216.5 687.2,217.3C688.5,218.0 689.9,218.7 691.2,219.4C692.6,220.1 693.9,220.8 695.3,221.4C696.6,222.1 697.9,222.7 699.3,223.3C700.6,223.9 702.0,224.5 703.3,225.1C704.7,225.7 706.0,226.3 707.4,226.8C708.7,227.4 710.0,227.9 711.4,228.4C712.7,228.9 714.1,229.4 715.4,229.9C716.8,230.4 718.1,230.8 719.5,231.3C720.8,231.7 722.1,232.1 723.5,232.6C724.8,233.0 726.2,233.4 727.5,233.8C728.9,234.1 730.2,234.5 731.6,234.9C732.9,235.2 734.2,235.6 735.6,235.9C736.9,236.3 738.3,236.6 739.6,236.9C741.0,237.2 742.3,237.5 743.7,237.8C745.0,238.0 746.3,238.3 747.7,238.6C749.0,238.8 750.4,239.1 751.7,239.3C753.1,239.5 754.4,239.8 755.8,240.0C757.1,240.2 758.4,240.4 759.8,240.6C761.1,240.8 762.5,241.0 763.8,241.2C765.2,241.3 766.5,241.5 767.9,241.7C769.2,241.8 770.6,242.0 771.9,242.1C773.2,242.2 774.6,242.4 775.9,242.5C777.3,242.6 778.6,242.7 780.0,242.8C781.3,242.9 782.7,243.0 784.0,243.1C785.3,243.2 786.7,243.3 788.0,243.4C789.4,243.5 790.7,243.5 792.1,243.6C793.4,243.7 794.8,243.7 796.1,243.8C797.4,243.8 798.8,243.9 800.1,243.9C801.5,243.9 802.8,244.0 804.2,244.0C805.5,244.0 806.9,244.1 808.2,244.1C809.5,244.1 810.9,244.1 812.2,244.2C813.6,244.2 814.9,244.2 816.3,244.2C817.6,244.2 819.6,244.2 820.3,244.2" fill="none" stroke="#f00" stroke-width="1.95" stroke-linejoin="round" stroke-dasharray="35.3 9.4"/>
<path transform="translate(-0.3,0)" d="M485.5,169.8C486.2,168.7 488.2,165.8 489.5,163.4C490.9,160.9 492.2,158.3 493.5,154.8C494.9,151.4 496.2,147.0 497.5,142.6C498.9,138.2 500.2,133.2 501.6,128.4C502.9,123.6 504.2,118.9 505.6,113.8C506.9,108.6 508.2,102.6 509.6,97.3C510.9,92.0 512.3,86.8 513.6,82.1C514.9,77.5 516.3,73.5 517.6,69.6C518.9,65.6 520.3,62.2 521.6,58.7C523.0,55.1 524.3,51.8 525.6,48.4C527.0,45.0 528.3,41.4 529.6,38.3C531.0,35.2 532.3,32.1 533.7,29.7C535.0,27.4 536.3,25.6 537.7,24.1C539.0,22.6 540.3,21.6 541.7,20.6C543.0,19.6 544.4,18.9 545.7,18.2C547.0,17.4 548.4,16.8 549.7,16.3C551.0,15.9 552.4,15.5 553.7,15.3C555.1,15.1 556.4,15.0 557.7,15.1C559.1,15.2 560.4,15.5 561.8,15.9C563.1,16.3 564.4,16.9 565.8,17.6C567.1,18.2 568.4,19.1 569.8,20.0C571.1,20.9 572.5,22.0 573.8,23.2C575.1,24.3 576.5,25.6 577.8,26.9C579.1,28.3 580.5,29.7 581.8,31.2C583.2,32.7 584.5,34.3 585.8,35.9C587.2,37.5 588.5,39.2 589.8,40.9C591.2,42.6 592.5,44.3 593.9,46.1C595.2,47.9 596.5,49.7 597.9,51.5C599.2,53.3 600.5,55.1 601.9,56.9C603.2,58.7 604.6,60.6 605.9,62.4C607.2,64.2 608.6,66.1 609.9,67.9C611.2,69.7 612.6,71.6 613.9,73.4C615.3,75.3 616.6,77.1 617.9,79.0C619.3,80.8 620.6,82.7 622.0,84.5C623.3,86.4 624.6,88.2 626.0,90.1C627.3,91.9 628.6,93.8 630.0,95.6C631.3,97.5 632.7,99.3 634.0,101.2C635.3,103.0 636.7,104.9 638.0,106.7C639.3,108.5 640.7,110.4 642.0,112.2C643.4,114.0 644.7,115.8 646.0,117.6C647.4,119.4 648.7,121.2 650.0,123.0C651.4,124.8 652.7,126.6 654.1,128.4C655.4,130.2 656.7,131.9 658.1,133.7C659.4,135.4 660.7,137.2 662.1,138.9C663.4,140.6 664.8,142.3 666.1,144.0C667.4,145.7 668.8,147.4 670.1,149.1C671.4,150.7 672.8,152.4 674.1,154.0C675.5,155.7 676.8,157.3 678.1,158.9C679.5,160.5 680.8,162.1 682.1,163.6C683.5,165.2 684.8,166.7 686.2,168.3C687.5,169.8 688.8,171.3 690.2,172.8C691.5,174.2 692.9,175.7 694.2,177.1C695.5,178.6 696.9,180.0 698.2,181.4C699.5,182.8 700.9,184.2 702.2,185.5C703.6,186.9 704.9,188.2 706.2,189.5C707.6,190.8 708.9,192.1 710.2,193.4C711.6,194.7 712.9,196.0 714.3,197.2C715.6,198.4 716.9,199.7 718.3,200.9C719.6,202.1 720.9,203.2 722.3,204.4C723.6,205.6 725.0,206.7 726.3,207.9C727.6,209.0 729.0,210.1 730.3,211.2C731.6,212.3 733.0,213.4 734.3,214.5C735.7,215.5 737.0,216.6 738.3,217.6C739.7,218.6 741.0,219.7 742.3,220.7C743.7,221.7 745.0,222.7 746.4,223.6C747.7,224.6 749.0,225.6 750.4,226.5C751.7,227.5 753.1,228.4 754.4,229.3C755.7,230.2 757.1,231.1 758.4,232.0C759.7,232.9 761.1,233.8 762.4,234.6C763.8,235.5 765.1,236.4 766.4,237.2C767.8,238.0 769.1,238.9 770.4,239.7C771.8,240.5 773.1,241.3 774.5,242.1C775.8,242.9 777.1,243.7 778.5,244.4C779.8,245.2 781.1,246.0 782.5,246.7C783.8,247.4 785.2,248.2 786.5,248.9C787.8,249.6 789.2,250.4 790.5,251.1C791.8,251.8 793.2,252.5 794.5,253.2C795.9,253.8 797.2,254.5 798.5,255.2C799.9,255.9 801.2,256.5 802.5,257.2C803.9,257.8 805.2,258.5 806.6,259.1C807.9,259.8 809.2,260.4 810.6,261.0C811.9,261.7 813.2,262.3 814.6,262.9C815.9,263.5 817.9,264.4 818.6,264.7" fill="none" stroke="#00f" stroke-width="2.0" stroke-linejoin="round" stroke-dasharray="8.5 4.9"/>
<path transform="translate(0,0)" d="M485.5,169.8C486.2,168.7 488.2,165.8 489.5,163.4C490.9,160.9 492.2,158.3 493.5,154.8C494.9,151.4 496.2,147.0 497.5,142.6C498.9,138.2 500.2,133.2 501.6,128.4C502.9,123.6 504.2,118.9 505.6,113.8C506.9,108.6 508.2,102.6 509.6,97.3C510.9,92.0 512.3,86.8 513.6,82.1C514.9,77.5 516.3,73.5 517.6,69.6C518.9,65.6 520.3,62.2 521.6,58.7C523.0,55.1 524.3,51.8 525.6,48.4C527.0,45.0 528.3,41.4 529.6,38.3C531.0,35.2 532.3,32.1 533.7,29.7C535.0,27.4 536.3,25.6 537.7,24.1C539.0,22.6 540.3,21.6 541.7,20.6C543.0,19.6 544.4,18.9 545.7,18.2C547.0,17.4 548.4,16.8 549.7,16.3C551.0,15.9 552.4,15.5 553.7,15.3C555.1,15.1 556.4,15.0 557.7,15.1C559.1,15.2 560.4,15.5 561.8,15.9C563.1,16.3 564.4,16.9 565.8,17.6C567.1,18.2 568.4,19.1 569.8,20.0C571.1,20.9 572.5,22.0 573.8,23.2C575.1,24.3 576.5,25.6 577.8,26.9C579.1,28.3 580.5,29.7 581.8,31.2C583.2,32.7 584.5,34.3 585.8,35.9C587.2,37.5 588.5,39.2 589.8,40.9C591.2,42.6 592.5,44.3 593.9,46.1C595.2,47.9 596.5,49.7 597.9,51.5C599.2,53.3 600.5,55.1 601.9,56.9C603.2,58.7 604.6,60.6 605.9,62.4C607.2,64.2 608.6,66.1 609.9,67.9C611.2,69.7 612.6,71.6 613.9,73.4C615.3,75.3 616.6,77.1 617.9,79.0C619.3,80.8 620.6,82.7 622.0,84.5C623.3,86.4 624.6,88.2 626.0,90.1C627.3,91.9 628.6,93.8 630.0,95.6C631.3,97.5 632.7,99.3 634.0,101.2C635.3,103.0 636.7,104.9 638.0,106.7C639.3,108.5 640.7,110.4 642.0,112.2C643.4,114.0 644.7,115.8 646.0,117.6C647.4,119.4 648.7,121.2 650.0,123.0C651.4,124.8 652.7,126.6 654.1,128.4C655.4,130.2 656.7,131.9 658.1,133.7C659.4,135.4 660.7,137.2 662.1,138.9C663.4,140.6 664.8,142.3 666.1,144.0C667.4,145.7 668.8,147.4 670.1,149.1C671.4,150.7 672.8,152.4 674.1,154.0C675.5,155.7 676.8,157.3 678.1,158.9C679.5,160.5 680.8,162.1 682.1,163.6C683.5,165.2 684.8,166.7 686.2,168.3C687.5,169.8 688.8,171.3 690.2,172.8C691.5,174.2 692.9,175.7 694.2,177.1C695.5,178.6 696.9,180.0 698.2,181.4C699.5,182.8 700.9,184.2 702.2,185.5C703.6,186.9 704.9,188.2 706.2,189.5C707.6,190.8 708.9,192.1 710.2,193.4C711.6,194.7 712.9,196.0 714.3,197.2C715.6,198.4 716.9,199.7 718.3,200.9C719.6,202.1 720.9,203.2 722.3,204.4C723.6,205.6 725.0,206.7 726.3,207.9C727.6,209.0 729.0,210.1 730.3,211.2C731.6,212.3 733.0,213.4 734.3,214.5C735.7,215.5 737.0,216.6 738.3,217.6C739.7,218.6 741.0,219.7 742.3,220.7C743.7,221.7 745.0,222.7 746.4,223.6C747.7,224.6 749.0,225.6 750.4,226.5C751.7,227.5 753.1,228.4 754.4,229.3C755.7,230.2 757.1,231.1 758.4,232.0C759.7,232.9 761.1,233.8 762.4,234.6C763.8,235.5 765.1,236.4 766.4,237.2C767.8,238.0 769.1,238.9 770.4,239.7C771.8,240.5 773.1,241.3 774.5,242.1C775.8,242.9 777.1,243.7 778.5,244.4C779.8,245.2 781.1,246.0 782.5,246.7C783.8,247.4 785.2,248.2 786.5,248.9C787.8,249.6 789.2,250.4 790.5,251.1C791.8,251.8 793.2,252.5 794.5,253.2C795.9,253.8 797.2,254.5 798.5,255.2C799.9,255.9 801.2,256.5 802.5,257.2C803.9,257.8 805.2,258.5 806.6,259.1C807.9,259.8 809.2,260.4 810.6,261.0C811.9,261.7 813.2,262.3 814.6,262.9C815.9,263.5 817.9,264.4 818.6,264.7" fill="none" stroke="#00f" stroke-width="2.0" stroke-linejoin="round" stroke-dasharray="8.5 4.9"/>
<path transform="translate(0.3,0)" d="M485.5,169.8C486.2,168.7 488.2,165.8 489.5,163.4C490.9,160.9 492.2,158.3 493.5,154.8C494.9,151.4 496.2,147.0 497.5,142.6C498.9,138.2 500.2,133.2 501.6,128.4C502.9,123.6 504.2,118.9 505.6,113.8C506.9,108.6 508.2,102.6 509.6,97.3C510.9,92.0 512.3,86.8 513.6,82.1C514.9,77.5 516.3,73.5 517.6,69.6C518.9,65.6 520.3,62.2 521.6,58.7C523.0,55.1 524.3,51.8 525.6,48.4C527.0,45.0 528.3,41.4 529.6,38.3C531.0,35.2 532.3,32.1 533.7,29.7C535.0,27.4 536.3,25.6 537.7,24.1C539.0,22.6 540.3,21.6 541.7,20.6C543.0,19.6 544.4,18.9 545.7,18.2C547.0,17.4 548.4,16.8 549.7,16.3C551.0,15.9 552.4,15.5 553.7,15.3C555.1,15.1 556.4,15.0 557.7,15.1C559.1,15.2 560.4,15.5 561.8,15.9C563.1,16.3 564.4,16.9 565.8,17.6C567.1,18.2 568.4,19.1 569.8,20.0C571.1,20.9 572.5,22.0 573.8,23.2C575.1,24.3 576.5,25.6 577.8,26.9C579.1,28.3 580.5,29.7 581.8,31.2C583.2,32.7 584.5,34.3 585.8,35.9C587.2,37.5 588.5,39.2 589.8,40.9C591.2,42.6 592.5,44.3 593.9,46.1C595.2,47.9 596.5,49.7 597.9,51.5C599.2,53.3 600.5,55.1 601.9,56.9C603.2,58.7 604.6,60.6 605.9,62.4C607.2,64.2 608.6,66.1 609.9,67.9C611.2,69.7 612.6,71.6 613.9,73.4C615.3,75.3 616.6,77.1 617.9,79.0C619.3,80.8 620.6,82.7 622.0,84.5C623.3,86.4 624.6,88.2 626.0,90.1C627.3,91.9 628.6,93.8 630.0,95.6C631.3,97.5 632.7,99.3 634.0,101.2C635.3,103.0 636.7,104.9 638.0,106.7C639.3,108.5 640.7,110.4 642.0,112.2C643.4,114.0 644.7,115.8 646.0,117.6C647.4,119.4 648.7,121.2 650.0,123.0C651.4,124.8 652.7,126.6 654.1,128.4C655.4,130.2 656.7,131.9 658.1,133.7C659.4,135.4 660.7,137.2 662.1,138.9C663.4,140.6 664.8,142.3 666.1,144.0C667.4,145.7 668.8,147.4 670.1,149.1C671.4,150.7 672.8,152.4 674.1,154.0C675.5,155.7 676.8,157.3 678.1,158.9C679.5,160.5 680.8,162.1 682.1,163.6C683.5,165.2 684.8,166.7 686.2,168.3C687.5,169.8 688.8,171.3 690.2,172.8C691.5,174.2 692.9,175.7 694.2,177.1C695.5,178.6 696.9,180.0 698.2,181.4C699.5,182.8 700.9,184.2 702.2,185.5C703.6,186.9 704.9,188.2 706.2,189.5C707.6,190.8 708.9,192.1 710.2,193.4C711.6,194.7 712.9,196.0 714.3,197.2C715.6,198.4 716.9,199.7 718.3,200.9C719.6,202.1 720.9,203.2 722.3,204.4C723.6,205.6 725.0,206.7 726.3,207.9C727.6,209.0 729.0,210.1 730.3,211.2C731.6,212.3 733.0,213.4 734.3,214.5C735.7,215.5 737.0,216.6 738.3,217.6C739.7,218.6 741.0,219.7 742.3,220.7C743.7,221.7 745.0,222.7 746.4,223.6C747.7,224.6 749.0,225.6 750.4,226.5C751.7,227.5 753.1,228.4 754.4,229.3C755.7,230.2 757.1,231.1 758.4,232.0C759.7,232.9 761.1,233.8 762.4,234.6C763.8,235.5 765.1,236.4 766.4,237.2C767.8,238.0 769.1,238.9 770.4,239.7C771.8,240.5 773.1,241.3 774.5,242.1C775.8,242.9 777.1,243.7 778.5,244.4C779.8,245.2 781.1,246.0 782.5,246.7C783.8,247.4 785.2,248.2 786.5,248.9C787.8,249.6 789.2,250.4 790.5,251.1C791.8,251.8 793.2,252.5 794.5,253.2C795.9,253.8 797.2,254.5 798.5,255.2C799.9,255.9 801.2,256.5 802.5,257.2C803.9,257.8 805.2,258.5 806.6,259.1C807.9,259.8 809.2,260.4 810.6,261.0C811.9,261.7 813.2,262.3 814.6,262.9C815.9,263.5 817.9,264.4 818.6,264.7" fill="none" stroke="#00f" stroke-width="2.0" stroke-linejoin="round" stroke-dasharray="8.5 4.9"/>
</g>
<defs><mask id="m"><rect width="830" height="336" fill="#fff"/></mask></defs>
<g fill="#000" mask="url(#m)">
<text transform="translate(34.72,17.74) scale(0.2275,0.2776)" font-size="100">0.4</text>
<text transform="translate(35.63,79.84) scale(0.2275,0.2776)" font-size="100">0.2</text>
<text transform="translate(52.03,145.94) scale(0.2275,0.2776)" font-size="100">0</text>
<text transform="translate(30.99,210.64) scale(0.2275,0.2776)" font-size="100">-0.2</text>
<text transform="translate(30.38,273.94) scale(0.2275,0.2776)" font-size="100">-0.4</text>
<text transform="translate(65.61,288.74) scale(0.2275,0.2776)" font-size="100">0</text>
<text transform="translate(135.78,289.94) scale(0.2275,0.2776)" font-size="100">0.5</text>
<text transform="translate(217.21,290.74) scale(0.2275,0.2776)" font-size="100">1.0</text>
<text transform="translate(299.51,290.72) scale(0.2275,0.2776)" font-size="100">1.5</text>
<text transform="translate(379.78,293.04) scale(0.2275,0.2776)" font-size="100">2.0</text>
<text transform="translate(449.92,44.74) scale(0.2275,0.2776)" font-size="100">0.4</text>
<text transform="translate(450.33,111.54) scale(0.2275,0.2776)" font-size="100">0.2</text>
<text transform="translate(463.64,178.54) scale(0.2275,0.2776)" font-size="100">0</text>
<text transform="translate(442.59,246.24) scale(0.2275,0.2776)" font-size="100">-0.2</text>
<text transform="translate(481.41,294.84) scale(0.2275,0.2776)" font-size="100">0</text>
<text transform="translate(554.88,294.84) scale(0.2275,0.2776)" font-size="100">0.5</text>
<text transform="translate(637.81,295.94) scale(0.2275,0.2776)" font-size="100">1.0</text>
<text transform="translate(725.31,296.82) scale(0.2275,0.2776)" font-size="100">1.5</text>
<text transform="translate(802.48,296.54) scale(0.2275,0.2776)" font-size="100">2.0</text>
<text transform="translate(332.05,49.70) scale(0.4126,0.4667)" font-size="100">(a)</text>
<text transform="translate(755.51,56.97) scale(0.3963,0.4633)" font-size="100">(b)</text>
<text transform="translate(220.06,325.95) scale(0.3872,0.3458) skewX(-8)" font-size="100" stroke="#fff" stroke-width="0.7"><tspan font-style="italic">a</tspan></text>
<text transform="translate(646.69,334.26) scale(0.3830,0.3417) skewX(-8)" font-size="100" stroke="#fff" stroke-width="0.7"><tspan font-style="italic">a</tspan></text>
<text transform="translate(517.71,128.39) scale(0.1977,0.2086)" font-size="100"><tspan font-style="italic">b</tspan></text>
<text transform="translate(527.84,128.38) scale(0.2717,0.2040)" font-size="100"><tspan fill="#3a3a3a">=</tspan></text>
<text transform="translate(541.71,128.37) scale(0.2229,0.2164)" font-size="100">0<tspan font-style="italic">.5</tspan></text>
<text transform="translate(538.93,81.69) scale(0.2186,0.2143)" font-size="100"><tspan font-style="italic">b</tspan></text>
<text transform="translate(550.08,81.48) scale(0.2630,0.2040)" font-size="100"><tspan fill="#3a3a3a">=</tspan></text>
<text transform="translate(563.94,81.66) scale(0.2161,0.2194)" font-size="100">0<tspan font-style="italic">.7</tspan></text>
<text transform="translate(614.43,63.88) scale(0.2163,0.2171)" font-size="100"><tspan font-style="italic">b</tspan></text>
<text transform="translate(625.06,63.87) scale(0.2685,0.2080)" font-size="100"><tspan fill="#3a3a3a">=</tspan></text>
<text transform="translate(639.08,64.35) scale(0.2312,0.2269)" font-size="100">0.9</text>
<text transform="translate(27.30,186.17) rotate(-90) scale(0.3914,0.3667)" font-size="100"><tspan font-style="italic">a</tspan><tspan font-size="46" dy="-35">2</tspan><tspan dy="35"> </tspan><tspan font-style="italic">F</tspan>(<tspan font-style="italic">a</tspan>)</text>
<text transform="translate(433.16,235.00) rotate(-90) scale(0.3008,0.2878)" font-size="100"><tspan font-style="italic">N</tspan>(π/2) − <tspan font-style="italic">N</tspan>(π/4)</text>
</g>
</svg>
</body></html>
